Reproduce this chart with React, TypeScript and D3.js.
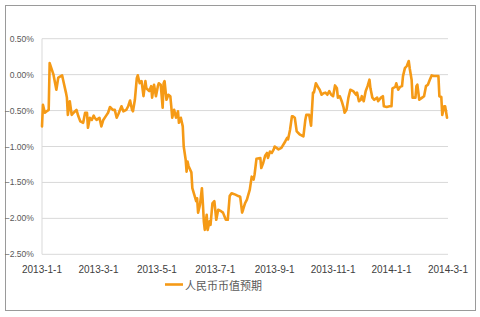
import React from "react";
import * as d3 from "d3";

// Days since 2013-01-01 for each observation
const dayOffsets = [
  0, 1, 3, 5, 7, 8, 12, 15, 17, 21, 22, 25, 26, 27, 29, 31, 33, 36, 38, 40,
  43, 45, 47, 48, 50, 52, 54, 55, 57, 60, 62, 64, 67, 69, 71, 74, 76, 78, 80, 83,
  85, 88, 90, 92, 94, 95, 97, 99, 100, 102, 104, 106, 108, 109, 112, 114, 115, 117, 119, 121,
  122, 124, 126, 127, 128, 130, 132, 134, 135, 136, 138, 140, 142, 143, 145, 147, 148, 149, 150, 151,
  152, 153, 156, 157, 159, 161, 162, 163, 165, 167, 168, 169, 170, 172, 173, 175, 176, 178, 180, 182,
  184, 187, 189, 192, 194, 196, 198, 202, 205, 207, 209, 210, 212, 214, 217, 219, 221, 222, 224, 228,
  229, 231, 233, 235, 236, 238, 240, 242, 243, 247, 250, 254, 256, 257, 259, 261, 262, 264, 266, 269,
  273, 275, 276, 279, 281, 283, 284, 286, 289, 290, 292, 294, 296, 298, 300, 302, 304, 306, 308, 309,
  311, 313, 315, 316, 318, 320, 322, 325, 328, 329, 331, 333, 334, 336, 338, 340, 342, 343, 345, 347,
  350, 351, 354, 356, 357, 360, 363, 365, 366, 369, 370, 372, 374, 376, 377, 379, 381, 383, 384, 386,
  387, 390, 391, 392, 394, 397, 399, 401, 403, 405, 407, 409, 412, 414, 415, 417, 418, 420, 421, 423,
];

// RMB value expectation, percent
const expectation = [
  -0.72, -0.42, -0.53, -0.51, -0.49, 0.16, 0.0, -0.21, -0.04, -0.01, -0.07, -0.25, -0.32, -0.56, -0.37, -0.56, -0.53, -0.49, -0.58, -0.65,
  -0.67, -0.53, -0.53, -0.74, -0.6, -0.63, -0.57, -0.6, -0.63, -0.6, -0.72, -0.63, -0.57, -0.53, -0.45, -0.49, -0.49, -0.6, -0.54, -0.44,
  -0.51, -0.49, -0.44, -0.36, -0.49, -0.51, -0.35, -0.05, -0.01, -0.12, -0.09, -0.3, -0.09, -0.19, -0.23, -0.16, -0.32, -0.14, -0.3, -0.16,
  -0.12, -0.14, -0.46, -0.12, -0.09, -0.35, -0.28, -0.3, -0.44, -0.6, -0.49, -0.6, -0.51, -0.67, -0.6, -0.72, -1.0, -1.09, -1.18, -1.35,
  -1.21, -1.27, -1.36, -1.58, -1.67, -1.76, -1.72, -1.92, -1.81, -1.58, -1.79, -2.04, -2.16, -1.95, -2.16, -2.04, -2.09, -1.79, -1.76, -2.02,
  -1.88, -1.9, -1.92, -2.02, -2.02, -1.69, -1.65, -1.67, -1.69, -1.7, -1.92, -1.88, -1.79, -1.74, -1.6, -1.42, -1.46, -1.39, -1.17, -1.16,
  -1.3, -1.23, -1.13, -1.09, -1.16, -1.07, -1.09, -1.04, -1.0, -1.04, -1.02, -0.93, -0.88, -0.9, -0.77, -0.58, -0.58, -0.6, -0.79, -0.83,
  -0.86, -0.63, -0.56, -0.56, -0.71, -0.25, -0.25, -0.12, -0.19, -0.21, -0.28, -0.26, -0.25, -0.28, -0.23, -0.28, -0.3, -0.15, -0.19, -0.32,
  -0.3, -0.37, -0.46, -0.53, -0.49, -0.32, -0.21, -0.23, -0.28, -0.25, -0.37, -0.35, -0.3, -0.37, -0.23, -0.16, -0.07, -0.19, -0.32, -0.35,
  -0.32, -0.37, -0.32, -0.3, -0.44, -0.45, -0.44, -0.44, -0.19, -0.17, -0.12, -0.21, -0.17, -0.16, -0.02, 0.09, 0.12, 0.19, 0.09, -0.07,
  -0.32, -0.32, -0.16, -0.14, -0.35, -0.32, -0.3, -0.16, -0.14, -0.07, -0.01, -0.02, -0.02, -0.02, -0.3, -0.31, -0.56, -0.44, -0.44, -0.6,
];

const yTicks = [0.5, 0.0, -0.5, -1.0, -1.5, -2.0, -2.5];
const xTickLabels = ["2013-1-1", "2013-3-1", "2013-5-1", "2013-7-1", "2013-9-1", "2013-11-1", "2014-1-1", "2014-3-1"];
const seriesName = "人民币币值预期";

const W = 480;
const H = 317;
const plot = { left: 42, right: 448, top: 38.7, bottom: 254.3 };

export default function App() {
  const start = new Date(2013, 0, 1);
  const parse = d3.timeParse("%Y-%m-%d");
  const tickDates = xTickLabels.map((s) => parse(s) as Date);
  const x = d3
    .scaleTime()
    .domain([start, tickDates[tickDates.length - 1]])
    .range([plot.left, plot.right]);
  const y = d3.scaleLinear().domain([-2.5, 0.5]).range([plot.bottom, plot.top]);

  const data = dayOffsets.map((d, i) => ({
    date: d3.timeDay.offset(start, d),
    value: expectation[i],
  }));

  const line = d3
    .line<{ date: Date; value: number }>()
    .x((d) => x(d.date))
    .y((d) => y(d.value));

  const fmt = d3.format(".2f");
  const font = "'Liberation Sans', Arial, sans-serif";
  const color = "#F59A16";

  return (
    <svg
      width={W}
      height={H}
      style={{ position: "absolute", left: 0, top: 0, background: "#fff" }}
    >
      <rect x={0} y={0} width={W} height={H} fill="#fff" />
      <rect x={5.5} y={5.5} width={470} height={305} fill="#fff" stroke="#9a9a9a" strokeWidth={1} />
      {yTicks.map((t) => (
        <g key={t}>
          <line x1={plot.left} x2={plot.right} y1={y(t)} y2={y(t)} stroke="#d9d9d9" strokeWidth={1} />
          <text
            x={34}
            y={y(t)}
            textAnchor="end"
            dominantBaseline="central"
            fontFamily={font}
            fontSize={8.6}
            fill="#595959"
          >
            {fmt(t) + "%"}
          </text>
        </g>
      ))}
      <line x1={plot.left} x2={plot.left} y1={plot.top} y2={plot.bottom} stroke="#d9d9d9" strokeWidth={1} />
      {tickDates.map((d, i) => (
        <text
          key={i}
          x={x(d)}
          y={269}
          textAnchor="middle"
          dominantBaseline="central"
          fontFamily={font}
          fontSize={10}
          fill="#404040"
        >
          {xTickLabels[i]}
        </text>
      ))}
      <path
        d={line(data) || ""}
        fill="none"
        stroke={color}
        strokeWidth={2.6}
        strokeLinejoin="round"
        strokeLinecap="round"
      />
      <line x1={165} x2={183} y1={284.5} y2={284.5} stroke={color} strokeWidth={2.6} />
      <text
        x={185}
        y={284.5}
        dominantBaseline="central"
        fontFamily="'Noto Sans CJK SC', sans-serif"
        fontSize={11}
        fill="#595959"
      >
        {seriesName}
      </text>
    </svg>
  );
}
